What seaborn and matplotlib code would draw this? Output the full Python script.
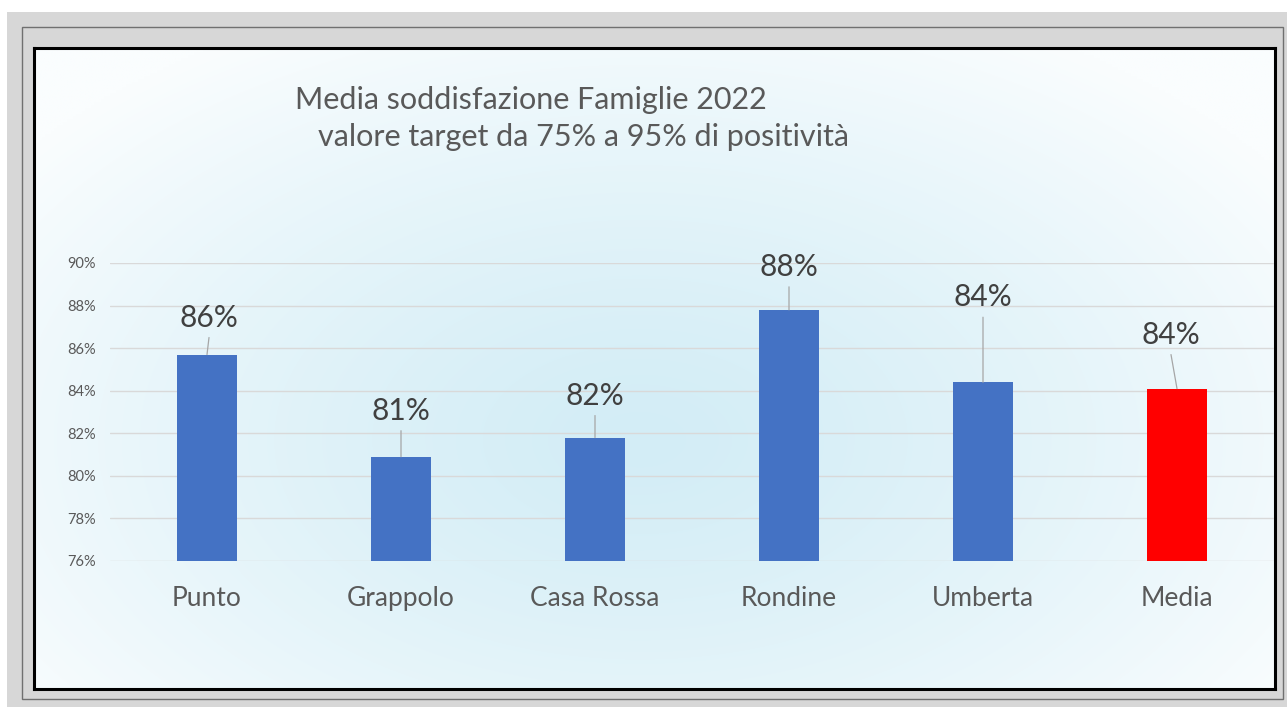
import numpy as np
import pandas as pd
import matplotlib
matplotlib.use("Agg")
import matplotlib.pyplot as plt
from matplotlib.patches import Rectangle
import seaborn as sns

# ---- data ----
categories = ["Punto", "Grappolo", "Casa Rossa", "Rondine", "Umberta", "Media"]
satisfaction = [85.7, 80.9, 81.8, 87.8, 84.4, 84.1]
bar_colors = ["#4472C4", "#4472C4", "#4472C4", "#4472C4", "#4472C4", "#FF0000"]
y_ticks = [76, 78, 80, 82, 84, 86, 88, 90]
title_lines = ["Media soddisfazione Famiglie 2022",
               "valore target da 75% a 95% di positività"]

# data-label placement, in pixels relative to the top of each bar
label_dx = [2, 0, 0, 0, 0, -6]
label_dy = [28, 37, 33, 34, 76, 45]

W, H = 1287, 707
TEXT = "#595959"

sns.set_style("white")
plt.rcParams["font.family"] = ["Lato", "DejaVu Sans"]

fig = plt.figure(figsize=(W / 100, H / 100), dpi=100)
fig.patch.set_facecolor("white")


def fx(x):
    return x / W


def fy(y):
    return 1 - y / H


# outer grey frame and thin inner rule
fig.patches.append(Rectangle((fx(7), fy(707)), fx(1287) - fx(7), fy(12) - fy(707),
                             transform=fig.transFigure, facecolor="#d7d7d7",
                             edgecolor="none", zorder=0))
fig.patches.append(Rectangle((fx(22), fy(699)), fx(1283) - fx(22), fy(27) - fy(699),
                             transform=fig.transFigure, facecolor="none",
                             edgecolor="#707070", lw=1.0, zorder=0.5))

# chart panel with a soft radial blue gradient
px0, px1, py0, py1 = 34, 1275, 48, 689
bg = fig.add_axes([fx(px0), fy(py1), fx(px1) - fx(px0), fy(py0) - fy(py1)], zorder=0.6)
gx = np.linspace(px0, px1, 400)
gy = np.linspace(py0, py1, 220)
GX, GY = np.meshgrid(gx, gy)
cx, cy, rx, ry = 640, 440, 780, 470
t = np.clip(np.sqrt(((GX - cx) / rx) ** 2 + ((GY - cy) / ry) ** 2), 0, 1) ** 1.3
center = np.array([211, 237, 246]) / 255
edge = np.array([250, 253, 254]) / 255
img = center[None, None, :] * (1 - t[..., None]) + edge[None, None, :] * t[..., None]
bg.imshow(img, aspect="auto", extent=[0, 1, 0, 1], interpolation="bilinear")
bg.set_xlim(0, 1)
bg.set_ylim(0, 1)
bg.set_xticks([])
bg.set_yticks([])
for s in bg.spines.values():
    s.set_color("black")
    s.set_linewidth(2.2)

# main plotting area
ax_l, ax_r, ax_t, ax_b = 110, 1274, 263, 561
ax = fig.add_axes([fx(ax_l), fy(ax_b), fx(ax_r) - fx(ax_l), fy(ax_t) - fy(ax_b)], zorder=1)
ax.patch.set_alpha(0)

df = pd.DataFrame({"Struttura": categories, "Soddisfazione": satisfaction})
sns.barplot(data=df, x="Struttura", y="Soddisfazione", hue="Struttura",
            palette=bar_colors, width=0.31, saturation=1, legend=False,
            linewidth=0, edgecolor="none", ax=ax, zorder=3)

ax.set_xlim(-0.5, len(categories) - 0.5)
ax.set_ylim(y_ticks[0], y_ticks[-1])
ax.set_yticks(y_ticks)
ax.set_yticklabels([f"{v}%" for v in y_ticks], fontsize=10.5, color=TEXT)
ax.set_xticks(range(len(categories)))
ax.set_xticklabels(categories, fontsize=19, color=TEXT)
ax.tick_params(axis="y", length=0, pad=10)
ax.tick_params(axis="x", length=0, pad=18)
ax.set_xlabel("")
ax.set_ylabel("")
ax.yaxis.grid(True, color="#d9d9d9", lw=1.0, zorder=0)
ax.xaxis.grid(False)
for s in ax.spines.values():
    s.set_visible(False)
ax.set_axisbelow(True)

# value labels with leader lines
for i, v in enumerate(satisfaction):
    ax.annotate("", xy=(i, v), xytext=(label_dx[i], label_dy[i] - 11),
                textcoords="offset pixels",
                arrowprops=dict(arrowstyle="-", color="#a6a6a6", lw=0.9,
                                shrinkA=0, shrinkB=0), zorder=4)
    ax.annotate(f"{v:.0f}%", xy=(i, v), xytext=(label_dx[i], label_dy[i]),
                textcoords="offset pixels", ha="center", va="baseline",
                fontsize=21.5, color="#404040", zorder=5)

# two-line title
fig.text(fx(295), fy(109), title_lines[0], fontsize=22, color=TEXT, va="baseline", ha="left")
fig.text(fx(318), fy(146), title_lines[1], fontsize=22, color=TEXT, va="baseline", ha="left")

fig.savefig("out.png", dpi=100)
